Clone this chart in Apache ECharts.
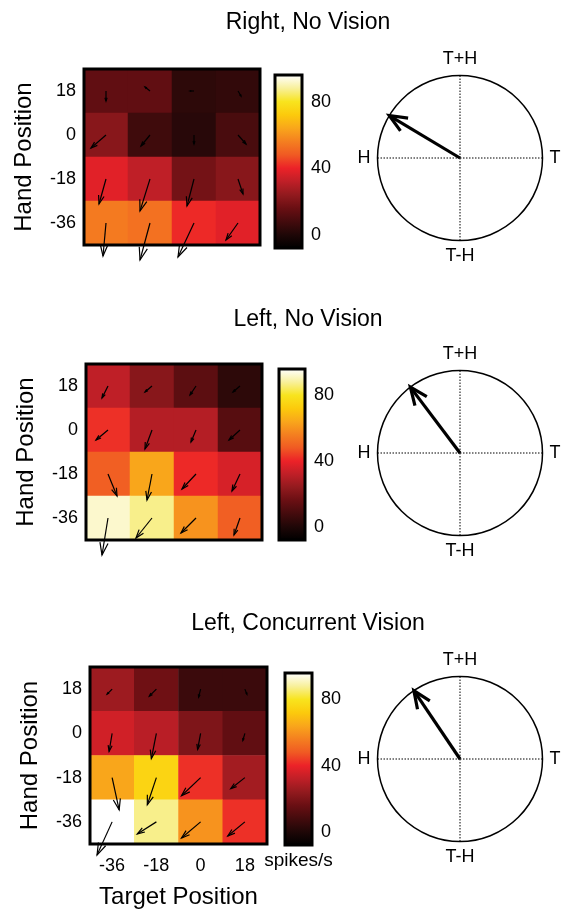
<!DOCTYPE html>
<html>
<head>
<meta charset="utf-8">
<script src="https://cdn.jsdelivr.net/npm/echarts@6/dist/echarts.min.js"></script>
<style>
  html, body { margin: 0; padding: 0; background: #fff; }
  #chart { width: 563px; height: 910px; }
</style>
</head>
<body>
<div id="chart"></div>
<script>
// ---- data ----
const targetPos = ['-36', '-18', '0', '18'];
const handPos = ['-36', '-18', '0', '18'];          // bottom to top
const panelTitles = ['Right, No Vision', 'Left, No Vision', 'Left, Concurrent Vision'];

// firing rate (spikes/s); rows top-to-bottom = hand 18, 0, -18, -36; columns = target -36 .. 18
const rateRightNoVision = [
  [14, 14, 3, 4],
  [22, 7, 2, 9],
  [38, 32, 18, 22],
  [55, 53, 41, 38]
];
const rateLeftNoVision = [
  [32, 22, 13, 3],
  [42, 30, 30, 12],
  [49, 64, 41, 36],
  [92, 87, 60, 49]
];
const rateLeftVision = [
  [26, 17, 6, 6],
  [35, 31, 20, 14],
  [64, 75, 42, 27],
  [96, 87, 60, 42]
];

// gradient vectors per cell (x = target direction, y = hand direction), same row order
const gradXRightNoVision = [
  [0, -5, -4, 3],
  [-15, -9, 0, 8],
  [-7, -10, -7, 5],
  [-3, -10, -16, -12]
];
const gradYRightNoVision = [
  [-10, 4, 0, -5],
  [-13, -11, -9, -9],
  [-25, -32, -27, -15],
  [-33, -37, -34, -17]
];
const gradXLeftNoVision = [
  [-6, -7, -6, -7],
  [-12, -7, -5, -11],
  [9, -5, -14, -8],
  [-6, -16, -15, -6]
];
const gradYLeftNoVision = [
  [-12, -6, -9, -6],
  [-10, -19, -12, -10],
  [-22, -26, -15, -17],
  [-37, -20, -15, -17]
];
const gradXLeftVision = [
  [-5, -7, -2, 2],
  [-3, -5, -3, -2],
  [7, -9, -19, -14],
  [-15, -19, -19, -17]
];
const gradYLeftVision = [
  [-5, -7, -8, -5],
  [-18, -25, -16, -7],
  [-32, -27, -18, -11],
  [-33, -12, -16, -14]
];

// population gradient direction (degrees, 0 = T, 90 = T+H)
const gradientAngle = [149, 127, 124];
const directionLabels = ['T', 'T+H', 'H', 'T-H'];

const rateMin = -8, rateMax = 96;
const colorbarTicks = [0, 40, 80];

// ---- style ----
const FONT = 'Liberation Sans, Arial, sans-serif';
const HOT = ['#000000', '#1f0707', '#440b0d', '#6a0f13', '#921a1e', '#bf1f27', '#ec2228',
             '#f05a23', '#f47f20', '#f9a61b', '#fcca0c', '#f8e41e', '#f8f09a', '#ffffff'];

const layouts = [
  { heat: { left: 84, top: 69, width: 176, height: 176 },
    cbar: { left: 275, top: 75, width: 27, height: 173 },
    center: [460, 158], titleTop: 6 },
  { heat: { left: 86, top: 364, width: 176, height: 176 },
    cbar: { left: 279, top: 369, width: 26, height: 171 },
    center: [460, 453], titleTop: 303 },
  { heat: { left: 90, top: 667, width: 177, height: 178 },
    cbar: { left: 285, top: 673, width: 27, height: 172 },
    center: [460, 759], titleTop: 607 }
];

const rates = [rateRightNoVision, rateLeftNoVision, rateLeftVision];
const gradX = [gradXRightNoVision, gradXLeftNoVision, gradXLeftVision];
const gradY = [gradYRightNoVision, gradYLeftNoVision, gradYLeftVision];

const option = {
  animation: false,
  backgroundColor: '#fff',
  textStyle: { fontFamily: FONT, color: '#000' },
  title: [], grid: [], xAxis: [], yAxis: [], polar: [], angleAxis: [], radiusAxis: [], series: [],
  visualMap: [{
    show: false, type: 'continuous', min: rateMin, max: rateMax, dimension: 2,
    seriesIndex: [], inRange: { color: HOT }
  }]
};

function gridBox(box) {
  return Object.assign({ show: true, z: 4, borderColor: '#000', borderWidth: 3,
                         backgroundColor: 'transparent', containLabel: false }, box);
}

layouts.forEach((L, p) => {
  const last = p === layouts.length - 1;
  option.title.push({
    text: panelTitles[p], left: 303, top: L.titleTop, textAlign: 'center',
    textStyle: { fontFamily: FONT, fontSize: 23, fontWeight: 'normal', color: '#000' }
  });

  // heat map grid
  const hg = option.grid.length;
  option.grid.push(gridBox(L.heat));
  option.xAxis.push({
    type: 'category', gridIndex: hg, data: targetPos,
    axisLine: { show: false },
    axisTick: { show: true, inside: true, length: 4, alignWithLabel: true, lineStyle: { color: '#333' } },
    axisLabel: { show: last, fontSize: 18, color: '#000', margin: 13, fontFamily: FONT },
    name: last ? 'Target Position' : '', nameLocation: 'middle', nameGap: 41,
    nameTextStyle: { fontSize: 24, color: '#000', fontFamily: FONT }
  });
  option.yAxis.push({
    type: 'category', gridIndex: hg, data: handPos,
    axisLine: { show: false },
    axisTick: { show: true, inside: true, length: 4, alignWithLabel: true, lineStyle: { color: '#333' } },
    axisLabel: { fontSize: 18, color: '#000', margin: 8, fontFamily: FONT },
    name: 'Hand Position', nameLocation: 'middle', nameGap: 48,
    nameTextStyle: { fontSize: 24, color: '#000', fontFamily: FONT }
  });

  const heatData = [], arrowData = [];
  rates[p].forEach((row, r) => row.forEach((v, c) => {
    const yi = handPos.length - 1 - r;
    heatData.push([c, yi, v]);
    arrowData.push([c, yi, gradX[p][r][c], gradY[p][r][c]]);
  }));
  option.visualMap[0].seriesIndex.push(option.series.length);
  option.series.push({
    type: 'heatmap', xAxisIndex: hg, yAxisIndex: hg, data: heatData,
    itemStyle: { borderWidth: 0 }, emphasis: { disabled: true }
  });
  option.series.push({
    type: 'custom', xAxisIndex: hg, yAxisIndex: hg, data: arrowData, z: 6, clip: false,
    renderItem(params, api) {
      const o = api.coord([api.value(0), api.value(1)]);
      const s = api.size([1, 0])[0] / 44;
      const u = api.value(2) * s, v = -api.value(3) * s;
      const e = [o[0] + u, o[1] + v];
      const a = 0.33, b = 0.33;
      const h1 = [e[0] - a * (u + b * v), e[1] - a * (v - b * u)];
      const h2 = [e[0] - a * (u - b * v), e[1] - a * (v + b * u)];
      const st = { stroke: '#000', lineWidth: 1.2, fill: null };
      return { type: 'group', children: [
        { type: 'polyline', shape: { points: [o, e] }, style: st },
        { type: 'polyline', shape: { points: [h1, e, h2] }, style: st }
      ] };
    }
  });

  // colour bar
  const cg = option.grid.length;
  option.grid.push(gridBox(L.cbar));
  option.xAxis.push({
    type: 'category', gridIndex: cg, data: [''],
    axisLine: { show: false }, axisTick: { show: false }, axisLabel: { show: false },
    name: last ? 'spikes/s' : '', nameLocation: 'middle', nameGap: 6,
    nameTextStyle: { fontSize: 19, color: '#000', fontFamily: FONT, verticalAlign: 'top' }
  });
  option.yAxis.push({
    type: 'value', gridIndex: cg, min: rateMin, max: rateMax, position: 'right',
    axisLine: { show: false }, axisTick: { show: false }, splitLine: { show: false },
    axisLabel: { customValues: colorbarTicks, fontSize: 18, color: '#000', margin: 9, fontFamily: FONT }
  });
  option.series.push({
    type: 'custom', xAxisIndex: cg, yAxisIndex: cg, data: [[0, rateMin, rateMax]],
    renderItem(params, api) {
      const lo = api.coord([0, api.value(1)]);
      const hi = api.coord([0, api.value(2)]);
      const w = api.size([1, 0])[0];
      return {
        type: 'rect',
        shape: { x: lo[0] - w / 2, y: hi[1], width: w, height: lo[1] - hi[1] },
        style: { fill: new echarts.graphic.LinearGradient(0, 1, 0, 0,
          HOT.map((c, i) => ({ offset: i / (HOT.length - 1), color: c }))) }
      };
    }
  });

  // direction circle
  const pi = option.polar.length;
  option.polar.push({ center: L.center, radius: 82.5 });
  option.angleAxis.push({
    polarIndex: pi, type: 'value', min: 0, max: 360, interval: 90,
    startAngle: 0, clockwise: false,
    axisLine: { lineStyle: { color: '#000', width: 1.5 } },
    axisTick: { show: false },
    axisLabel: { fontSize: 18, color: '#000', margin: 7, fontFamily: FONT,
      formatter: v => (v >= 360 ? '' : directionLabels[Math.round(v / 90)]) },
    splitLine: { show: true, lineStyle: { color: '#000', width: 1, type: [1.5, 1.5] } }
  });
  option.radiusAxis.push({
    polarIndex: pi, type: 'value', min: 0, max: 1, show: false,
    axisLine: { show: false }, axisLabel: { show: false }, axisTick: { show: false }, splitLine: { show: false }
  });
  option.series.push({
    type: 'custom', coordinateSystem: 'polar', polarIndex: pi, data: [[1, gradientAngle[p]]], z: 5,
    renderItem(params, api) {
      const ang = api.value(1);
      const c = api.coord([0, ang]);
      const t = api.coord([api.value(0), ang]);
      const dx = c[0] - t[0], dy = c[1] - t[1];
      const len = Math.hypot(dx, dy);
      const ux = dx / len, uy = dy / len;
      const hl = 19, th = 23 * Math.PI / 180;
      const rot = (s) => [t[0] + hl * (ux * Math.cos(s) - uy * Math.sin(s)),
                          t[1] + hl * (ux * Math.sin(s) + uy * Math.cos(s))];
      const st = { stroke: '#000', lineWidth: 3.2, fill: null };
      return { type: 'group', children: [
        { type: 'line', shape: { x1: c[0], y1: c[1], x2: t[0], y2: t[1] }, style: st },
        { type: 'polyline', shape: { points: [rot(th), t, rot(-th)] }, style: st }
      ] };
    }
  });
});

const chart = echarts.init(document.getElementById('chart'), null, { renderer: 'canvas' });
chart.setOption(option);
</script>
</body>
</html>
